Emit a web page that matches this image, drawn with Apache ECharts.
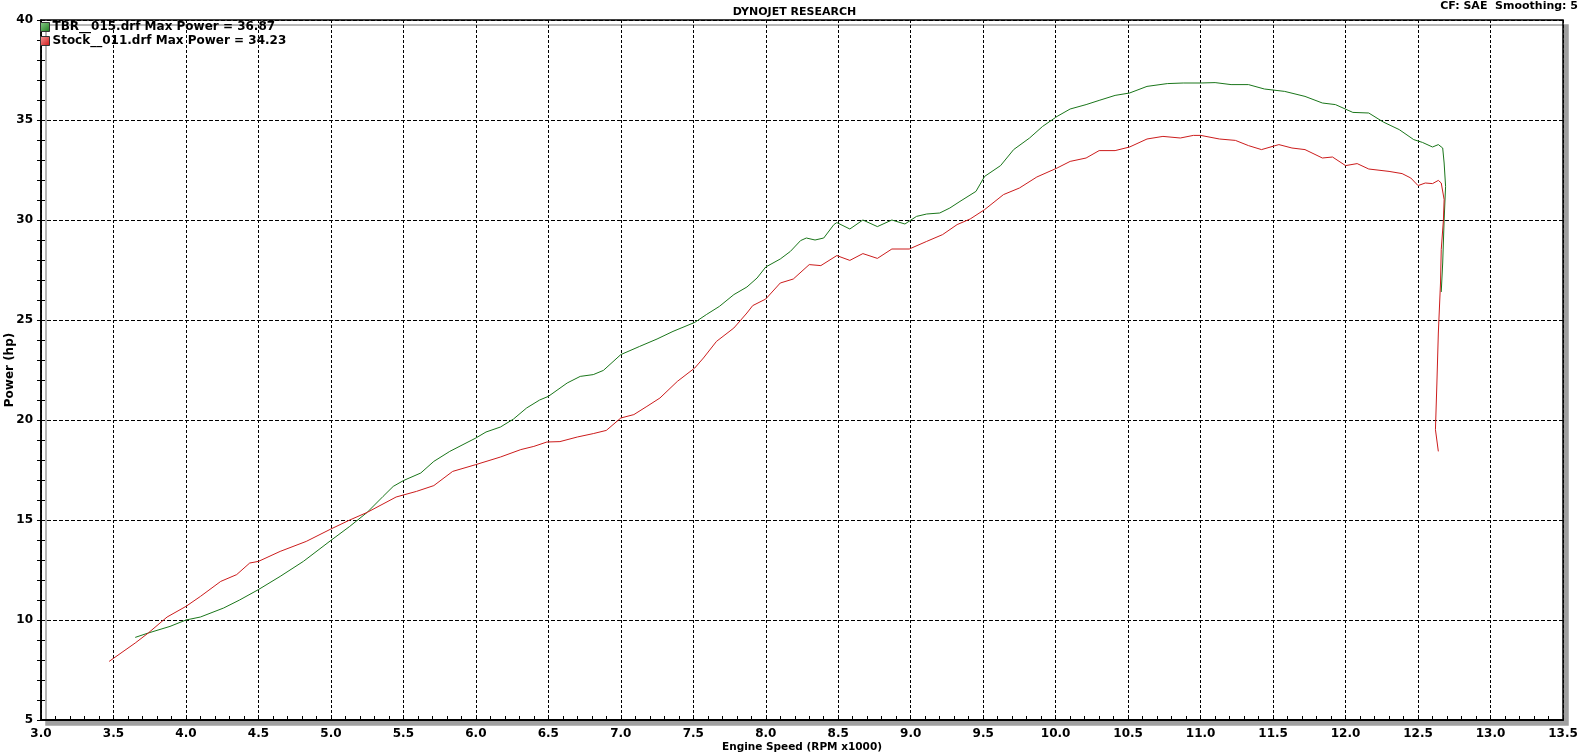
<!DOCTYPE html>
<html>
<head>
<meta charset="utf-8">
<title>Dyno chart</title>
<script src="https://cdn.jsdelivr.net/npm/echarts@6/dist/echarts.min.js"></script>
<style>
  html, body { margin: 0; padding: 0; background: #fff; }
  #chart { width: 1589px; height: 753px; }
</style>
</head>
<body>
<div id="chart"></div>
<script>
// TBR run (green)
const tbrRpm = [3.65, 3.74, 3.89, 4.00, 4.10, 4.26, 4.37, 4.50, 4.65, 4.81, 5.00, 5.13, 5.25, 5.36, 5.43, 5.50,
  5.62, 5.71, 5.82, 6.00, 6.07, 6.17, 6.26, 6.35, 6.44, 6.50, 6.63, 6.72, 6.81, 6.88, 7.00, 7.13, 7.25, 7.36,
  7.51, 7.59, 7.68, 7.78, 7.87, 7.94, 8.00, 8.10, 8.17, 8.24, 8.28, 8.34, 8.40, 8.47, 8.49, 8.58, 8.67, 8.77,
  8.87, 8.96, 9.04, 9.11, 9.20, 9.27, 9.34, 9.45, 9.51, 9.62, 9.71, 9.82, 9.91, 10.01, 10.10, 10.21, 10.30,
  10.41, 10.51, 10.63, 10.77, 10.88, 11.00, 11.10, 11.21, 11.33, 11.44, 11.58, 11.72, 11.84, 11.93, 12.05,
  12.16, 12.26, 12.37, 12.47, 12.53, 12.60, 12.64, 12.67, 12.68, 12.69, 12.68, 12.67, 12.66];
const tbrHp = [9.13, 9.35, 9.68, 10.0, 10.15, 10.6, 11.0, 11.52, 12.18, 12.93, 13.98, 14.68, 15.38, 16.18, 16.68, 16.97,
  17.35, 17.93, 18.43, 19.1, 19.4, 19.65, 20.05, 20.6, 21.0, 21.18, 21.85, 22.18, 22.27, 22.48, 23.27, 23.68, 24.05, 24.43,
  24.88, 25.27, 25.68, 26.27, 26.65, 27.1, 27.65, 28.05, 28.43, 28.97, 29.1, 29.0, 29.1, 29.77, 29.87, 29.55, 30.0, 29.67,
  30.0, 29.8, 30.18, 30.3, 30.35, 30.6, 30.93, 31.43, 32.18, 32.72, 33.52, 34.1, 34.68, 35.18, 35.55, 35.77, 35.98,
  36.23, 36.35, 36.68, 36.82, 36.85, 36.85, 36.87, 36.77, 36.77, 36.55, 36.43, 36.18, 35.85, 35.77, 35.38,
  35.35, 34.9, 34.52, 34.02, 33.88, 33.65, 33.77, 33.6, 32.85, 31.68, 30.0, 27.85, 26.4];

// Stock run (red)
const stockRpm = [3.47, 3.65, 3.74, 3.87, 4.00, 4.10, 4.24, 4.35, 4.44, 4.50, 4.65, 4.83, 5.00, 5.13, 5.25, 5.45,
  5.59, 5.71, 5.84, 6.00, 6.17, 6.31, 6.40, 6.49, 6.58, 6.70, 6.81, 6.90, 7.00, 7.09, 7.18, 7.27, 7.39, 7.51,
  7.57, 7.66, 7.78, 7.87, 7.91, 8.00, 8.10, 8.19, 8.30, 8.38, 8.49, 8.58, 8.67, 8.77, 8.87, 8.99, 9.11, 9.22,
  9.32, 9.41, 9.51, 9.64, 9.75, 9.87, 10.01, 10.10, 10.21, 10.30, 10.41, 10.51, 10.63, 10.74, 10.86, 10.95,
  11.00, 11.13, 11.24, 11.33, 11.42, 11.54, 11.63, 11.72, 11.84, 11.91, 12.00, 12.08, 12.16, 12.30, 12.39,
  12.45, 12.50, 12.55, 12.60, 12.64, 12.66, 12.68, 12.675, 12.66, 12.655, 12.64, 12.63, 12.62, 12.64];
const stockHp = [7.93, 8.85, 9.35, 10.15, 10.68, 11.18, 11.93, 12.27, 12.85, 12.93, 13.43, 13.93, 14.55, 15.0, 15.38, 16.15,
  16.43, 16.72, 17.43, 17.77, 18.15, 18.52, 18.68, 18.9, 18.92, 19.15, 19.32, 19.48, 20.1, 20.27, 20.68, 21.1, 21.93, 22.6,
  23.1, 23.93, 24.6, 25.35, 25.72, 26.05, 26.85, 27.05, 27.77, 27.72, 28.22, 27.98, 28.32, 28.08, 28.55, 28.55, 28.93, 29.27,
  29.77, 30.05, 30.52, 31.27, 31.6, 32.15, 32.6, 32.93, 33.1, 33.47, 33.47, 33.65, 34.05, 34.18, 34.1, 34.23,
  34.23, 34.05, 33.98, 33.72, 33.52, 33.77, 33.6, 33.52, 33.1, 33.15, 32.72, 32.82, 32.55, 32.43, 32.32,
  32.1, 31.72, 31.85, 31.82, 31.98, 31.85, 31.02, 30.0, 28.52, 26.85, 24.35, 21.85, 19.52, 18.43];

const tbrName = 'TBR__015.drf Max Power = 36.87';
const stockName = 'Stock__011.drf Max Power = 34.23';

const font = 'Verdana, "DejaVu Sans", sans-serif';

function zip(xs, ys) {
  return xs.map((x, i) => [x, ys[i]]);
}

const chart = echarts.init(document.getElementById('chart'));

const option = {
  animation: false,
  backgroundColor: '#fff',
  title: {
    text: 'DYNOJET RESEARCH',
    left: 'center',
    top: 2,
    textStyle: { fontFamily: font, fontSize: 11, fontWeight: 'bold', color: '#000' }
  },
  graphic: [
    {
      type: 'text',
      right: 11,
      top: 1,
      style: { text: 'CF: SAE  Smoothing: 5', font: 'bold 11px ' + font, fill: '#000' }
    }
  ],
  legend: {
    orient: 'vertical',
    left: 40,
    top: 20,
    itemWidth: 9,
    itemHeight: 9,
    itemGap: 0,
    padding: 0,
    icon: 'rect',
    selectedMode: false,
    textStyle: { fontFamily: font, fontSize: 12, fontWeight: 'bold', color: '#000', lineHeight: 14, padding: [0, 0, 0, -2] },
    data: [
      {
        name: tbrName,
        itemStyle: {
          color: new echarts.graphic.LinearGradient(0, 0, 1, 1, [
            { offset: 0, color: '#8fd08f' }, { offset: 1, color: '#1a7a1a' }
          ]),
          borderColor: '#333', borderWidth: 1
        }
      },
      {
        name: stockName,
        itemStyle: {
          color: new echarts.graphic.LinearGradient(0, 0, 1, 1, [
            { offset: 0, color: '#f4a0a0' }, { offset: 1, color: '#d01010' }
          ]),
          borderColor: '#333', borderWidth: 1
        }
      }
    ]
  },
  grid: {
    left: 41,
    right: 26,
    top: 20,
    bottom: 33,
    outerBoundsMode: 'none',
    show: true,
    backgroundColor: '#fff',
    borderColor: '#000',
    borderWidth: 1.5,
    shadowColor: '#a0a0a0',
    shadowBlur: 0,
    shadowOffsetX: 5,
    shadowOffsetY: 5
  },
  xAxis: {
    type: 'value',
    min: 3.0,
    max: 13.5,
    interval: 0.5,
    name: 'Engine Speed (RPM x1000)',
    nameLocation: 'middle',
    nameGap: 22,
    nameMoveOverlap: false,
    nameTextStyle: { fontFamily: font, fontSize: 10.5, fontWeight: 'bold', color: '#000' },
    axisLine: { lineStyle: { color: '#000', width: 2 } },
    axisTick: { show: true, inside: true, length: 4, lineStyle: { color: '#000' } },
    minorTick: { show: true, splitNumber: 5, length: 4, lineStyle: { color: '#000' } },
    axisLabel: {
      margin: 8,
      fontFamily: font, fontSize: 12, fontWeight: 'bold', color: '#000',
      formatter: v => v.toFixed(1)
    },
    splitLine: { show: true, lineStyle: { color: '#000', type: [3, 2], width: 1 } }
  },
  yAxis: [
    {
      type: 'value',
      min: 5,
      max: 40,
      interval: 5,
      name: 'Power (hp)',
      nameLocation: 'middle',
      nameGap: 25,
      nameMoveOverlap: false,
      nameTextStyle: { fontFamily: font, fontSize: 12, fontWeight: 'bold', color: '#000' },
      axisLine: { show: true, lineStyle: { color: '#000', width: 1.5 } },
      axisTick: { show: true, length: 4, lineStyle: { color: '#000' } },
      minorTick: { show: true, splitNumber: 5, length: 4, lineStyle: { color: '#000' } },
      axisLabel: { margin: 8, fontFamily: font, fontSize: 12, fontWeight: 'bold', color: '#000' },
      splitLine: { show: true, lineStyle: { color: '#000', type: [4, 2], width: 1 } }
    },
    {
      // 内侧刻度，让刻度穿过坐标轴
      type: 'value',
      min: 5,
      max: 40,
      interval: 5,
      position: 'left',
      axisLine: { show: false },
      axisTick: { show: true, inside: true, length: 4, lineStyle: { color: '#000' } },
      minorTick: { show: true, splitNumber: 5, length: 4, lineStyle: { color: '#000' } },
      axisLabel: { show: false },
      splitLine: { show: false }
    }
  ],
  series: [
    {
      name: tbrName,
      type: 'line',
      yAxisIndex: 0,
      showSymbol: false,
      symbol: 'none',
      lineStyle: { color: '#1a761a', width: 1 },
      itemStyle: { color: '#1a761a' },
      data: zip(tbrRpm, tbrHp)
    },
    {
      name: stockName,
      type: 'line',
      yAxisIndex: 0,
      showSymbol: false,
      symbol: 'none',
      lineStyle: { color: '#cc1c1c', width: 1 },
      itemStyle: { color: '#cc1c1c' },
      data: zip(stockRpm, stockHp)
    }
  ]
};

chart.setOption(option);
</script>
</body>
</html>
